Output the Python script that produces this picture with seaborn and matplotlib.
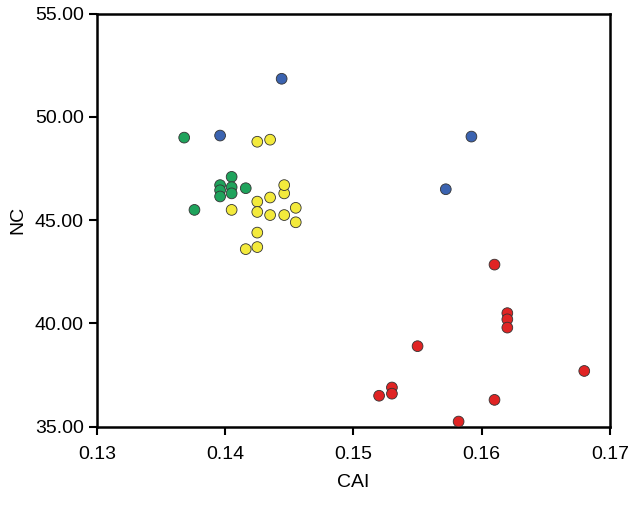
import matplotlib
matplotlib.use("Agg")
import matplotlib.pyplot as plt
import seaborn as sns
import pandas as pd
from matplotlib.ticker import FormatStrFormatter

plt.rcParams["font.family"] = "Liberation Sans"

blue_x = [0.1444, 0.1396, 0.1592, 0.1572]
blue_y = [51.85, 49.1, 49.05, 46.5]
green_x = [0.1368, 0.1376, 0.1396, 0.1396, 0.1396, 0.1405, 0.1405, 0.1405, 0.1416]
green_y = [49.0, 45.5, 46.7, 46.45, 46.15, 47.1, 46.6, 46.3, 46.55]
yellow_x = [0.1425, 0.1435, 0.1405, 0.1425, 0.1425, 0.1425, 0.1416, 0.1425, 0.1435,
            0.1435, 0.1446, 0.1446, 0.1446, 0.1455, 0.1455]
yellow_y = [48.8, 48.9, 45.5, 45.9, 45.4, 44.4, 43.6, 43.7, 45.25,
            46.1, 46.3, 46.7, 45.25, 45.6, 44.9]
red_x = [0.1610, 0.1620, 0.1620, 0.1620, 0.1550, 0.1530, 0.1530, 0.1520, 0.1582, 0.1610, 0.1680]
red_y = [42.85, 40.5, 40.2, 39.8, 38.9, 36.9, 36.6, 36.5, 35.25, 36.3, 37.7]

groups = {"blue": (blue_x, blue_y), "green": (green_x, green_y),
          "yellow": (yellow_x, yellow_y), "red": (red_x, red_y)}
palette = {"blue": "#3b63b0", "green": "#1fa35c", "yellow": "#f3ea3c", "red": "#e02424"}
rows = []
for g, (xs, ys) in groups.items():
    rows += [{"CAI": x, "NC": y, "g": g} for x, y in zip(xs, ys)]
df = pd.DataFrame(rows)

fig, ax = plt.subplots(figsize=(6.34, 5.08), dpi=100)
fig.subplots_adjust(left=0.153, right=0.962, bottom=0.16, top=0.973)
sns.scatterplot(data=df, x="CAI", y="NC", hue="g", palette=palette, s=60,
                edgecolor="#333333", linewidth=0.6, legend=False, ax=ax, zorder=3)
ax.set_xlim(0.13, 0.17)
ax.set_ylim(35, 55)
ax.set_xticks([0.13, 0.14, 0.15, 0.16, 0.17])
ax.set_yticks([35, 40, 45, 50, 55])
ax.yaxis.set_major_formatter(FormatStrFormatter("%.2f"))
ax.xaxis.set_major_formatter(FormatStrFormatter("%g"))
for s in ax.spines.values():
    s.set_linewidth(1.8)
ax.tick_params(direction="out", width=1.5, length=6, labelsize=14)
ax.tick_params(axis="x", pad=8)
ax.set_xlabel("CAI", fontsize=14, labelpad=8)
ax.set_ylabel("NC", fontsize=14, labelpad=6)
fig.savefig("out.png")
